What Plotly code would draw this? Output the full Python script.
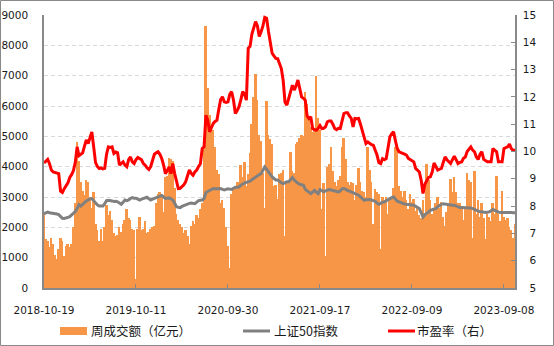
import plotly.graph_objects as go

# Weekly turnover (100 million yuan), SSE 50 index level, and P/E ratio (right axis)
turnover = [
    2450, 1600, 1550, 1350, 1650, 1450, 1100, 950, 1300, 1650,
    1550, 1050, 1400, 1450, 1350, 1450, 2000, 2800, 4800, 4200,
    3500, 3200, 3050, 3550, 3500, 3000, 2650, 3150, 2100, 1900,
    1550, 1950, 1550, 2000, 2750, 2400, 2550, 2250, 1800, 1700,
    1750, 2000, 1850, 2100, 2250, 2600, 2300, 2250, 1950, 1900,
    300, 1950, 2350, 1900, 1950, 2200, 1800, 1850, 1950, 2000,
    2050, 2800, 3100, 3150, 3000, 2500, 3650, 3700, 4300, 4250,
    4200, 3300, 2450, 2250, 2100, 2000, 1800, 1900, 1700, 1450,
    2050, 2200, 2100, 2400, 2300, 2600, 2800, 4600, 8650, 6600,
    5700, 5300, 5200, 4650, 3900, 3750, 2800, 2900, 2650, 2000,
    1400, 650, 3100, 3300, 3350, 3500, 3500, 4050, 3650, 4150,
    3350, 3750, 4450, 5400, 6300, 7050, 6200, 5050, 4850, 3800,
    2650, 6150, 5050, 4900, 4750, 3350, 3400, 2950, 3750, 3800,
    3900, 1700, 3500, 3500, 4500, 3850, 3800, 4750, 4800, 4950,
    5050, 5000, 6450, 6050, 5550, 5300, 5150, 5200, 7000, 5600,
    5200, 2600, 3450, 1050, 4000, 4100, 4650, 3850, 3500, 3350,
    3550, 3700, 4650, 4950, 4250, 3500, 3400, 3500, 3450, 2900,
    3400, 3950, 3500, 3200, 3150, 3000, 4650, 3900, 3500, 2100,
    3250, 3150, 3100, 1300, 3000, 2900, 3000, 2450, 2900, 3000,
    3300, 4650, 4600, 3350, 3200, 3000, 3200, 2900, 2600, 3100,
    2850, 2950, 2550, 2700, 2400, 2300, 2900, 2350, 4100, 3550,
    2900, 2450, 2600, 2800, 3000, 2650, 2850, 2350, 2050, 2500,
    2700, 3600, 3150, 3650, 3150, 2800, 2800, 2700, 2250, 2650,
    3800, 3550, 3500, 1650, 3850, 2450, 2900, 2350, 2800, 2300,
    1600, 2450, 2350, 2200, 2800, 2450, 3700, 2450, 2200, 3200,
    2350, 2250, 2300, 2000, 1900, 1650, 2100,
]

sz50 = [
    2450, 2480, 2500, 2480, 2470, 2480, 2450, 2440, 2420, 2350,
    2300, 2290, 2300, 2330, 2350, 2400, 2450, 2520, 2620, 2750,
    2700, 2760, 2830, 2870, 2900, 2940, 2950, 2880, 2800, 2740,
    2700, 2690, 2700, 2780, 2880, 2890, 2890, 2870, 2850, 2860,
    2840, 2800, 2760, 2830, 2900, 2880, 2900, 2950, 2980, 2960,
    2960, 2930, 2900, 2930, 2950, 2970, 2990, 2940, 2900, 2930,
    2960, 2990, 3000, 3030, 3050, 3000, 2950, 2960, 2970, 2940,
    2900, 2800, 2680, 2660, 2650, 2690, 2720, 2740, 2760, 2790,
    2800, 2790, 2780, 2830, 2880, 2890, 2900, 2950, 3150, 3180,
    3220, 3250, 3280, 3270, 3260, 3270, 3280, 3250, 3230, 3250,
    3270, 3260, 3250, 3290, 3320, 3320, 3330, 3390, 3440, 3460,
    3480, 3500, 3520, 3570, 3620, 3660, 3700, 3740, 3770, 3880,
    3990, 3920, 3830, 3740, 3660, 3610, 3560, 3560, 3500, 3470,
    3440, 3470, 3500, 3500, 3580, 3640, 3560, 3500, 3450, 3420,
    3400, 3390, 3250, 3200, 3150, 3110, 3160, 3220, 3160, 3110,
    3245, 3200, 3170, 3200, 3230, 3245, 3230, 3220, 3210, 3190,
    3170, 3200, 3270, 3280, 3240, 3220, 3190, 3170, 3130, 3110,
    3090, 3060, 3000, 2940, 2890, 2910, 2920, 2920, 2900, 2890,
    2860, 2800, 2760, 2790, 2830, 2840, 2880, 2920, 2950, 2980,
    3000, 2920, 2860, 2840, 2810, 2780, 2770, 2760, 2760, 2750,
    2740, 2730, 2700, 2660, 2620, 2480, 2340, 2420, 2450, 2500,
    2560, 2580, 2610, 2620, 2680, 2730, 2760, 2780, 2770, 2740,
    2730, 2730, 2730, 2730, 2700, 2670, 2650, 2650, 2650, 2650,
    2650, 2650, 2640, 2620, 2590, 2560, 2530, 2510, 2510, 2490,
    2490, 2500, 2510, 2550, 2590, 2560, 2520, 2500, 2490, 2490,
    2490, 2500, 2510, 2500, 2490, 2480, 2480,
]

pe = [
    9.58, 9.65, 9.71, 9.55, 9.32, 9.25, 9.22, 9.20, 9.19, 8.55,
    8.50, 8.64, 8.75, 8.85, 9.05, 9.15, 9.30, 9.60, 10.17, 9.85,
    9.90, 9.95, 10.20, 10.42, 10.29, 10.55, 10.72, 10.17, 9.60, 9.45,
    9.38, 9.40, 9.36, 9.38, 9.90, 10.17, 10.15, 10.17, 9.93, 9.98,
    9.95, 9.50, 9.55, 9.62, 9.50, 9.44, 9.70, 9.80, 9.62, 9.56,
    9.70, 9.78, 9.74, 9.70, 9.56, 9.50, 9.40, 9.34, 9.45, 9.70,
    9.90, 9.95, 9.99, 9.90, 9.74, 9.50, 9.19, 9.30, 9.44, 9.19,
    9.56, 9.20, 8.95, 8.64, 8.65, 8.70, 8.78, 8.89, 9.10, 9.32,
    9.20, 9.13, 9.25, 9.32, 9.45, 9.55, 10.11, 10.17, 11.33, 11.15,
    10.72, 10.90, 11.03, 11.10, 11.15, 11.55, 11.90, 12.00, 11.82, 11.80,
    11.82, 12.10, 12.19, 11.88, 11.39, 11.50, 11.64, 11.90, 12.19, 12.10,
    11.88, 13.78, 13.85, 14.30, 14.50, 14.76, 14.60, 14.21, 14.39, 14.60,
    14.91, 14.88, 14.40, 14.05, 13.60, 13.50, 13.41, 13.40, 13.23, 13.04,
    12.60, 11.80, 11.70, 11.94, 12.10, 12.43, 12.25, 12.40, 12.62, 12.30,
    12.00, 11.95, 11.88, 11.30, 11.21, 11.27, 10.84, 10.80, 10.78, 10.84,
    10.95, 10.84, 10.85, 10.90, 11.09, 11.12, 11.12, 11.00, 10.84, 10.80,
    10.85, 10.84, 11.10, 11.39, 11.42, 11.42, 11.30, 11.21, 10.90, 11.21,
    11.20, 11.21, 11.00, 10.78, 10.50, 10.29, 10.35, 10.29, 10.25, 10.23,
    10.05, 9.87, 9.60, 9.56, 9.74, 9.70, 9.74, 10.20, 10.54, 10.65,
    10.72, 10.40, 10.11, 9.99, 9.95, 9.93, 9.90, 9.87, 9.75, 9.71,
    9.65, 9.62, 9.38, 9.30, 9.25, 8.95, 8.46, 8.80, 8.95, 9.05,
    9.07, 9.25, 9.58, 9.45, 9.32, 9.35, 9.38, 9.60, 9.80, 9.70,
    9.62, 9.56, 9.70, 9.83, 9.70, 9.56, 9.60, 9.62, 9.75, 9.80,
    10.00, 10.11, 10.17, 10.05, 9.99, 9.80, 9.71, 9.90, 9.99, 9.71,
    9.65, 9.62, 9.62, 9.62, 10.11, 10.05, 9.99, 9.62, 9.62, 9.62,
    10.11, 10.15, 10.17, 10.27, 10.11, 10.05, 10.05,
]

week_tick_index = [0, 50, 100, 150, 200, 250]
week_tick_labels = ["2018-10-19", "2019-10-11", "2020-09-30",
                    "2021-09-17", "2022-09-09", "2023-09-08"]

pe_tick_values = list(range(5, 16))
# pad single digits with a figure space so the right-axis numbers line up on the right
pe_tick_labels = [("\u2007" + str(v)) if v < 10 else str(v) for v in pe_tick_values]

legend_names = ["周成交额（亿元）", "上证50指数", "市盈率（右）"]

weeks = list(range(len(turnover)))

ORANGE = "#F79646"
GREY = "#808080"
RED = "#FF0000"
AXIS = "#898989"
TXT = "#1a1a1a"

W, H = 554, 346
ML, MR, MT, MB = 44, 39, 15, 58
PW, PH = W - ML - MR, H - MT - MB

fig = go.Figure()
fig.add_trace(go.Bar(x=weeks, y=turnover, marker=dict(color=ORANGE, line=dict(width=0)),
                     width=1.08, name=legend_names[0]))
fig.add_trace(go.Scatter(x=weeks, y=sz50, mode="lines", line=dict(color=GREY, width=3),
                         name=legend_names[1]))
fig.add_trace(go.Scatter(x=weeks, y=pe, mode="lines", line=dict(color=RED, width=3),
                         name=legend_names[2], yaxis="y2"))

font_num = dict(family="DejaVu Sans", size=10.5, color=TXT)

fig.update_layout(
    width=W, height=H,
    margin=dict(l=ML, r=MR, t=MT, b=MB, pad=0),
    paper_bgcolor="white", plot_bgcolor="white",
    showlegend=False, bargap=0,
    xaxis=dict(range=[0, len(turnover) - 1], tickmode="array",
               tickvals=week_tick_index, ticktext=week_tick_labels,
               ticks="inside", ticklen=4, tickcolor=AXIS, tickwidth=1,
               showline=True, linecolor=AXIS, linewidth=1.5,
               showgrid=False, zeroline=False, tickfont=font_num,
               ticklabelstandoff=12, automargin=False),
    yaxis=dict(range=[0, 9000], dtick=1000, tickmode="linear",
               showline=True, linecolor=AXIS, linewidth=1.5,
               showgrid=True, gridcolor="#D9D9D9", griddash="4px,3px", gridwidth=1,
               zeroline=False, ticks="", tickfont=font_num,
               ticklabelstandoff=12, automargin=False),
    yaxis2=dict(range=[5, 15], overlaying="y", side="right", tickmode="array",
                tickvals=pe_tick_values, ticktext=pe_tick_labels,
                showline=True, linecolor=AXIS, linewidth=1.5,
                ticks="inside", ticklen=4, tickcolor=AXIS,
                showgrid=False, zeroline=False, tickfont=font_num,
                ticklabelstandoff=4, automargin=False),
)


def px_x(px):
    return (px - ML) / PW


def px_y(py):
    return (MT + PH - py) / PH


# chart-area border
fig.add_shape(type="rect", xref="paper", yref="paper",
              x0=px_x(0.5), x1=px_x(W - 0.5), y0=px_y(H - 0.5), y1=px_y(0.5),
              line=dict(color=AXIS, width=1), layer="above")

# legend row
legend_y = 331
swatch_x = [60, 243, 388]
text_x = [89, 272, 415]
fig.add_shape(type="rect", xref="paper", yref="paper",
              x0=px_x(swatch_x[0]), x1=px_x(swatch_x[0] + 27),
              y0=px_y(legend_y + 4), y1=px_y(legend_y - 4),
              fillcolor=ORANGE, line=dict(width=0))
for sx, col in zip(swatch_x[1:], [GREY, RED]):
    fig.add_shape(type="line", xref="paper", yref="paper",
                  x0=px_x(sx), x1=px_x(sx + 27), y0=px_y(legend_y), y1=px_y(legend_y),
                  line=dict(color=col, width=3))
for tx, name in zip(text_x, legend_names):
    fig.add_annotation(xref="paper", yref="paper", x=px_x(tx), y=px_y(legend_y),
                       text=name, showarrow=False, xanchor="left", yanchor="middle",
                       font=dict(family="Noto Sans CJK SC", size=12.5, color=TXT))

fig.write_html("out.html")
